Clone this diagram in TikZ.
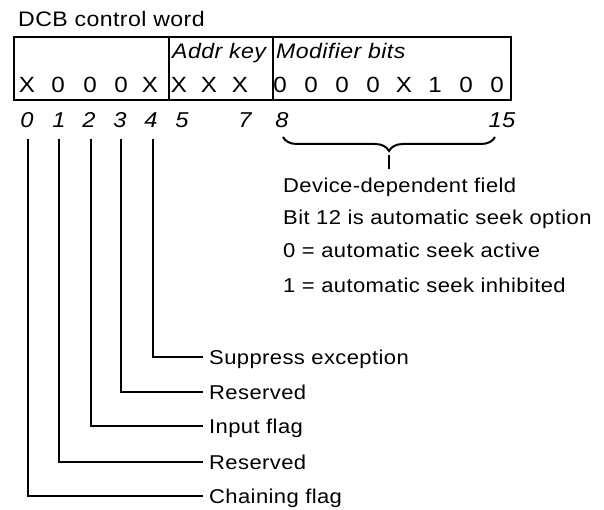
\documentclass[tikz,border=0pt]{standalone}
\usepackage{fontspec}
\setmainfont{Liberation Sans}[FakeStretch=1.1,LetterSpace=2]
\usetikzlibrary{decorations.pathreplacing}
\begin{document}
\begin{tikzpicture}[x=1pt,y=-1pt,
  txt/.style={inner sep=0pt,font=\fontsize{20}{22}\selectfont},
  bitval/.style={txt,anchor=base,font=\fontsize{22}{24}\selectfont},
  bitnum/.style={txt,anchor=base,font=\fontsize{21.5}{24}\selectfont\itshape},
  lbl/.style={txt,anchor=base west},
  hdr/.style={lbl,font=\fontsize{21}{23}\selectfont\itshape},
  ln/.style={line width=1.7pt},
  boxline/.style={line width=1.6pt}]
\useasboundingbox (0,0) rectangle (604,510);
% title
\node[lbl,font=\fontsize{21}{23}\selectfont] (title) at (18,27) {DCB control word};
% box
\draw[boxline] (14,37) rectangle (511,100);
\draw[boxline] (169,37) -- (169,100);
\draw[boxline] (273,37) -- (273,100);
\node[hdr] (addr) at (172,59) {Addr key};
\node[hdr] (modb) at (276,59) {Modifier bits};
% values
\foreach \v/\x [count=\i] in {X/27,0/58,0/90,0/121,X/150,X/179,X/209,X/240,0/280,0/311,0/342,0/373,X/404,1/435,0/466,0/497}
  \node[bitval] (v\i) at (\x,93) {\v};
% bit numbers
\foreach \n/\x in {0/27,1/59,2/89,3/120,4/151,5/182,7/245,8/282,15/502}
  \node[bitnum] (n\n) at (\x,128) {\n};
% brace
\coordinate (bl) at (283,137);
\coordinate (br) at (495,137);
\draw[line width=2pt,decorate,decoration={brace,mirror,amplitude=14pt}] (bl) -- (br);
\coordinate (btip) at (389,155);
\coordinate (bend) at (389,169);
\draw[ln] (btip) -- (bend);
\node[lbl] (dd) at (283,193) {Device-dependent field};
\node[lbl] (b12) at (283,225) {Bit 12 is automatic seek option};
\node[lbl] (s0) at (283,258) {0 = automatic seek active};
\node[lbl] (s1) at (283,292) {1 = automatic seek inhibited};
% bit leaders
\foreach \i/\x/\y/\t in {4/153/357/Suppress exception,3/121/392/Reserved,2/91/426/Input flag,1/59/462/Reserved,0/28/496/Chaining flag}{
  \coordinate (t\i) at (\x,139);
  \coordinate (e\i) at (203,\y);
  \node[lbl] (l\i) at (209,\y+7) {\t};
  \draw[ln] (t\i) |- (e\i);
}
\end{tikzpicture}
\end{document}
